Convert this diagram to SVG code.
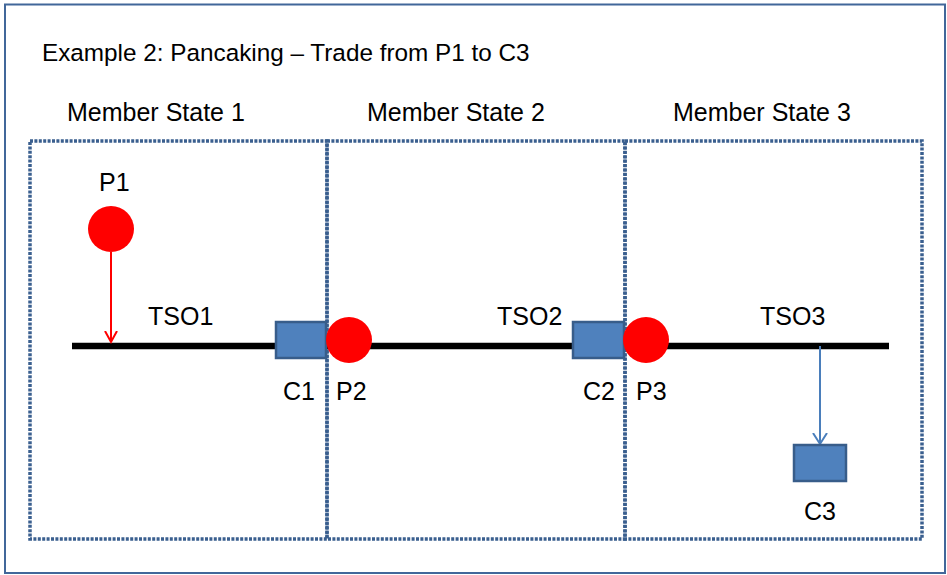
<svg xmlns="http://www.w3.org/2000/svg" width="947" height="575" viewBox="0 0 947 575">
<style>
text{font-family:"Liberation Sans",Arial,sans-serif;font-size:25px;fill:#000}
.ms{fill:none;stroke:#3a5f8f;stroke-width:3.5;stroke-dasharray:3 1.4}
.c{fill:#4f81bd;stroke:#385d8a;stroke-width:2.5}
.p{fill:#ff0000}
</style>
<defs>
<marker id="ar" markerWidth="14" markerHeight="14" refX="11" refY="6.5" orient="auto" markerUnits="userSpaceOnUse">
<path d="M0,0.5 L11,6.5 L0,12.5" fill="none" stroke="#ff0000" stroke-width="2"/>
</marker>
<marker id="ab" markerWidth="14" markerHeight="16" refX="11" refY="7.5" orient="auto" markerUnits="userSpaceOnUse">
<path d="M0,0.5 L11,7.5 L0,14.5" fill="none" stroke="#4a7ebb" stroke-width="2"/>
</marker>
</defs>
<rect x="0" y="0" width="947" height="575" fill="#fff"/>
<rect x="5" y="4.5" width="940" height="568.5" fill="none" stroke="#41679a" stroke-width="2"/>
<text x="42" y="61" style="font-size:24.3px">Example 2: Pancaking – Trade from P1 to C3</text>
<g id="ms1"><rect class="ms" x="30" y="141" width="297" height="398"/><text x="67" y="121">Member State 1</text></g>
<g id="ms2"><rect class="ms" x="327" y="141" width="298" height="398"/><text x="367" y="121">Member State 2</text></g>
<g id="ms3"><rect class="ms" x="625" y="141" width="297" height="398"/><text x="673" y="121">Member State 3</text></g>
<g id="grid">
<line x1="72" y1="346" x2="889" y2="346" stroke="#000" stroke-width="6.5"/>
<text x="148" y="325">TSO1</text>
<text x="497" y="325">TSO2</text>
<text x="760" y="325">TSO3</text>
</g>
<g id="connectors">
<line x1="111" y1="252" x2="111" y2="342" stroke="#ff0000" stroke-width="2" marker-end="url(#ar)"/>
<line x1="820" y1="346" x2="820" y2="444" stroke="#4a7ebb" stroke-width="2" marker-end="url(#ab)"/>
</g>
<g id="P1"><circle class="p" cx="111" cy="229" r="23"/><text x="99" y="191">P1</text></g>
<g id="C1"><rect class="c" x="276" y="322" width="50" height="36"/><text x="283" y="400">C1</text></g>
<g id="P2"><circle class="p" cx="349" cy="340" r="23"/><text x="336" y="400">P2</text></g>
<g id="C2"><rect class="c" x="573" y="322" width="51" height="36"/><text x="583" y="400">C2</text></g>
<g id="P3"><circle class="p" cx="646" cy="340" r="23"/><text x="636" y="400">P3</text></g>
<g id="C3"><rect class="c" x="794" y="445" width="52" height="36"/><text x="804" y="520">C3</text></g>
</svg>
